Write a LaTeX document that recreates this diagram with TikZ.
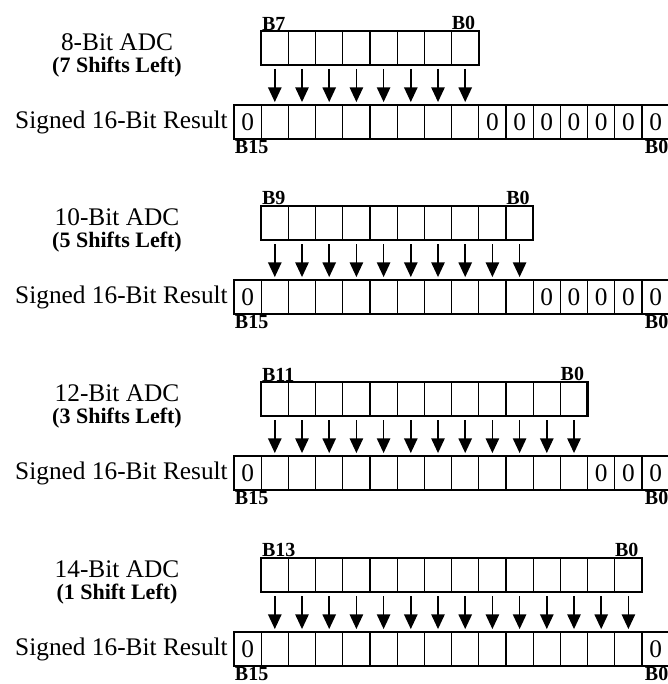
\documentclass[tikz,border=0pt]{standalone}
\usepackage{fontspec}
\setmainfont{Liberation Serif}
\usetikzlibrary{arrows.meta,positioning}

\tikzset{
  bitcell/.style={draw,line width=0.9pt,minimum width=20.4pt,minimum height=25.5pt,
    inner sep=0pt,outer sep=0pt,font=\fontsize{19}{19}\selectfont},
  bitlab/.style={inner sep=0.5pt,font=\fontsize{15}{15}\selectfont\bfseries},
  adclab/.style={inner sep=0pt,font=\fontsize{19}{19}\selectfont},
  shiftlab/.style={inner sep=0pt,font=\fontsize{16.5}{16.5}\selectfont\bfseries},
  regframe/.style={line width=1.9pt},
  bitarrow/.style={->,line width=1.1pt,shorten <=3pt,shorten >=2.2pt}
}

\begin{document}
\begin{tikzpicture}[x=0.75pt,y=-0.75pt,>={Triangle[width=10pt,length=11pt]}]
\useasboundingbox (0,0) rectangle (667,684);
\foreach \p/\nb/\yt/\shtxt in {1/8/31/{(7 Shifts Left)},2/10/206/{(5 Shifts Left)},
    3/12/382/{(3 Shifts Left)},4/14/558/{(1 Shift Left)}}{
  \pgfmathtruncatemacro{\msb}{\nb-1}
  % ADC register
  \foreach \i in {1,...,\nb}
    \node[bitcell] (adc\p-\i) at (247.6+27.2*\i,\yt+17) {};
  % result register, sign bit and padding zeros
  \foreach \i in {0,...,15}
    \node[bitcell] (res\p-\i) at (247.6+27.2*\i,\yt+91)
      {\ifnum\i=0\relax 0\fi\ifnum\i>\nb\relax 0\fi};
  \draw[regframe] (adc\p-1.north west) rectangle (adc\p-\nb.south east);
  \draw[regframe] (res\p-0.north west) rectangle (res\p-15.south east);
  \foreach \i in {1,...,\nb}
    \draw[bitarrow] (adc\p-\i) -- (res\p-\i);
  % bit numbers
  \node[bitlab,anchor=south west] (msb\p) at (adc\p-1.north west) {B\msb};
  \node[bitlab,anchor=south east,xshift=-2pt] (lsb\p) at (adc\p-\nb.north east) {B0};
  \node[bitlab,anchor=north west] (sign\p) at (res\p-0.south west) {B15};
  \node[bitlab,anchor=north east] (end\p) at (res\p-15.south east) {B0};
  % names
  \node[adclab] (title\p) at (117,\yt+11) {\nb-Bit ADC};
  \node[shiftlab] (shift\p) at (117,\yt+36) {\shtxt};
  \node[adclab,left=4.5pt of res\p-0] (resname\p) {Signed 16-Bit Result};
}
\end{tikzpicture}
\end{document}
